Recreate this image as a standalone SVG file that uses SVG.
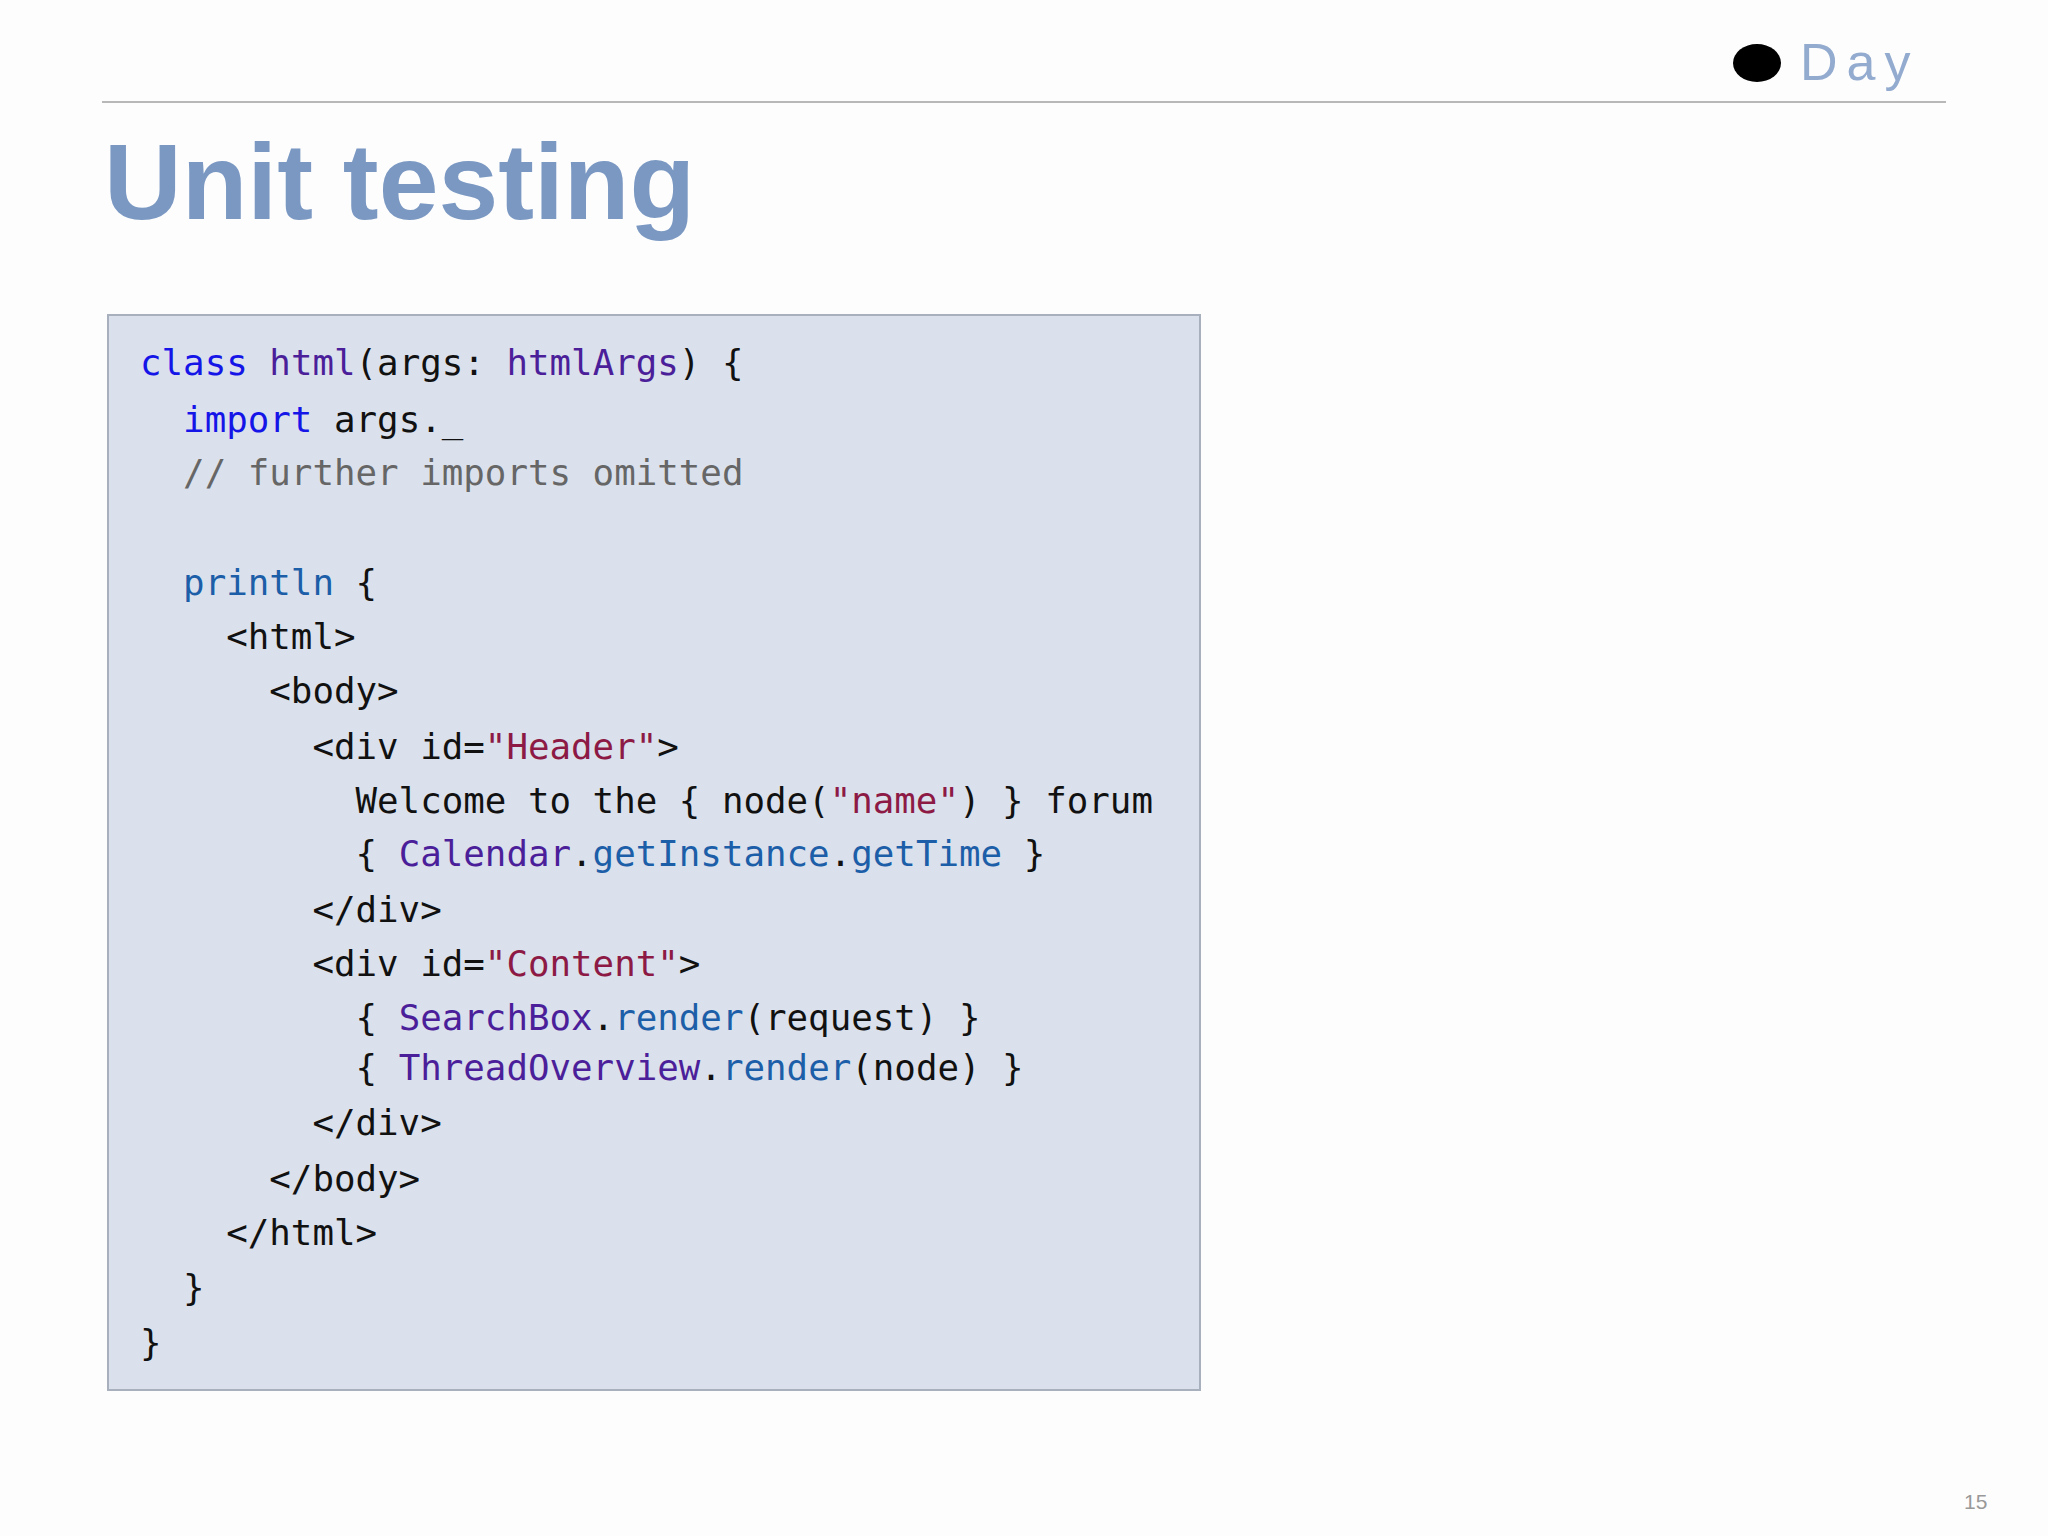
<svg xmlns="http://www.w3.org/2000/svg" width="2048" height="1536" viewBox="0 0 2048 1536">
<style>
.c{font-family:"DejaVu Sans Mono","Liberation Mono",monospace;font-size:35.8px;fill:#111}
.k{fill:#1515e8}.t{fill:#4b1e9a}.m{fill:#1c5ea8}.s{fill:#8c1a45}.g{fill:#666}
</style>
<rect width="2048" height="1536" fill="#fdfdfe"/>
<line x1="102" y1="102" x2="1946" y2="102" stroke="#b8b8b8" stroke-width="2"/>
<g id="logo"><ellipse cx="1757" cy="63" rx="24" ry="19" fill="#000"/>
<text x="1800" y="80" font-family="Liberation Sans,sans-serif" font-size="52" fill="#93abcf" letter-spacing="9">Day</text></g>
<text id="title" x="104" y="219" font-family="Liberation Sans,Arial,sans-serif" font-weight="bold" font-size="107.5" fill="#7a98c2">Unit testing</text>
<g id="code">
<rect x="108" y="315" width="1092" height="1075" fill="#dbe1ec" stroke="#a9b0bd" stroke-width="2"/>
<text class="c" xml:space="preserve">
<tspan x="140" y="375"><tspan class="k">class</tspan> <tspan class="t">html</tspan>(args: <tspan class="t">htmlArgs</tspan>) {</tspan>
<tspan x="140" y="432">  <tspan class="k">import</tspan> args._</tspan>
<tspan x="140" y="485" class="g">  // further imports omitted</tspan>
<tspan x="140" y="595">  <tspan class="m">println</tspan> {</tspan>
<tspan x="140" y="649">    &lt;html&gt;</tspan>
<tspan x="140" y="703">      &lt;body&gt;</tspan>
<tspan x="140" y="759">        &lt;div id=<tspan class="s">"Header"</tspan>&gt;</tspan>
<tspan x="140" y="813">          Welcome to the { node(<tspan class="s">"name"</tspan>) } forum</tspan>
<tspan x="140" y="866">          { <tspan class="t">Calendar</tspan>.<tspan class="m">getInstance</tspan>.<tspan class="m">getTime</tspan> }</tspan>
<tspan x="140" y="922">        &lt;/div&gt;</tspan>
<tspan x="140" y="976">        &lt;div id=<tspan class="s">"Content"</tspan>&gt;</tspan>
<tspan x="140" y="1030">          { <tspan class="t">SearchBox</tspan>.<tspan class="m">render</tspan>(request) }</tspan>
<tspan x="140" y="1080">          { <tspan class="t">ThreadOverview</tspan>.<tspan class="m">render</tspan>(node) }</tspan>
<tspan x="140" y="1135">        &lt;/div&gt;</tspan>
<tspan x="140" y="1191">      &lt;/body&gt;</tspan>
<tspan x="140" y="1245">    &lt;/html&gt;</tspan>
<tspan x="140" y="1300">  }</tspan>
<tspan x="140" y="1355">}</tspan>
</text>
</g>
<text x="1964" y="1509" font-family="Liberation Sans,sans-serif" font-size="21" fill="#999">15</text>
</svg>
